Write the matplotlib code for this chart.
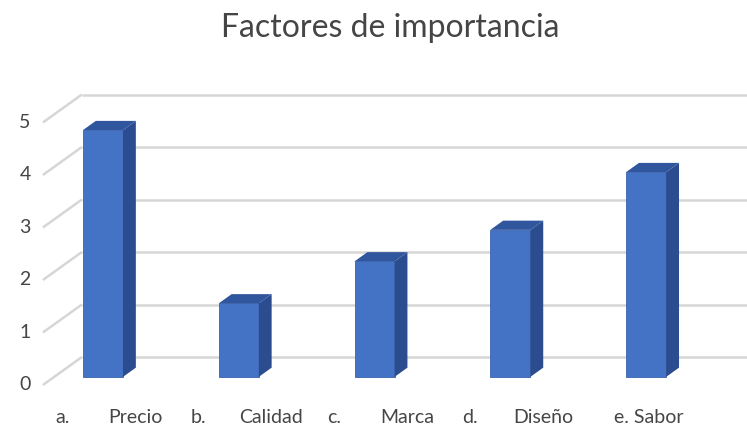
import numpy as np
import matplotlib.pyplot as plt
from matplotlib.patches import Polygon

# data
categories = ["a.\tPrecio", "b.\tCalidad", "c.\tMarca", "d.\tDiseño", "e. Sabor"]
values = [4.7, 1.4, 2.2, 2.8, 3.9]
yticks = [0, 1, 2, 3, 4, 5]
title = "Factores de importancia"

plt.rcParams['font.family'] = ['Lato', 'DejaVu Sans']

# fake 3D: one full depth step (front plane -> back wall) in data units
DX, DY = 0.287, 0.533
d_front, d_back = 0.29, 0.62
bar_w = 0.295
x_wall = -0.359

c_front = '#4472c4'
c_side = '#2b4d8f'
c_top = '#30569e'
grid_c = '#d6d6d6'
txt_c = '#454545'


def proj(x, y, d):
    return x + DX * d, y + DY * d


fig = plt.figure(figsize=(7.47, 4.26), dpi=100)
ax = fig.add_axes([0, 0, 1, 1])
ax.set_xlim(-0.675, 4.826)
ax.set_ylim(-0.781, 7.333)
ax.axis('off')

# back wall gridlines + floor diagonals
for t in yticks:
    x0, y0 = proj(x_wall, t, 0)
    x1, y1 = proj(x_wall, t, 1)
    ax.plot([x0, x1], [y0, y1], color=grid_c, lw=1.8, zorder=1, solid_capstyle='butt')
    ax.plot([x1, 5.0], [y1, y1], color=grid_c, lw=1.8, zorder=1, solid_capstyle='butt')
    ax.text(-0.491, t, str(t), ha='center', va='center', fontsize=14, color=txt_c)

dd = d_back - d_front
for i, v in enumerate(values):
    xl, yb = proj(i - bar_w / 2, 0, d_front)
    xr = xl + bar_w
    ax.bar(xl, v, width=bar_w, bottom=yb, align='edge', color=c_front,
           edgecolor='#3a63ad', lw=0.6, zorder=3)
    side = [(xr, yb), (xr, yb + v), (xr + DX * dd, yb + v + DY * dd), (xr + DX * dd, yb + DY * dd)]
    top = [(xl, yb + v), (xr, yb + v), (xr + DX * dd, yb + v + DY * dd), (xl + DX * dd, yb + v + DY * dd)]
    ax.add_patch(Polygon(side, closed=True, color=c_side, zorder=3, lw=0))
    ax.add_patch(Polygon(top, closed=True, color=c_top, zorder=3, lw=0))

    # category labels
    c = i + DX * d_front
    y_lab = -0.61
    if '\t' in categories[i]:
        letter, name = categories[i].split('\t')
        ax.text(c - 0.295, y_lab, letter, ha='center', va='center', fontsize=14, color=txt_c)
        ax.text(c + 0.24, y_lab, name, ha='center', va='center', fontsize=14, color=txt_c)
    else:
        ax.text(c + 0.018, y_lab, categories[i], ha='center', va='center', fontsize=14, color=txt_c)

fig.text(390 / 747, 1 - 28 / 426, title, ha='center', va='center', fontsize=23, color=txt_c)

fig.savefig('out.png', dpi=100)
